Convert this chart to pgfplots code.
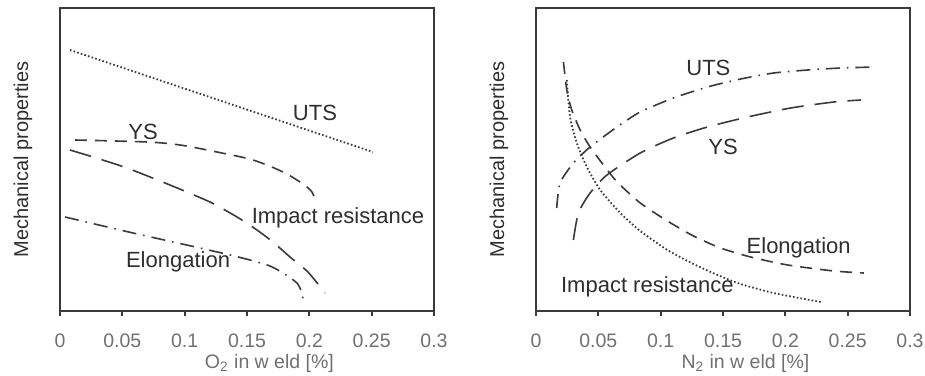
\documentclass[border=0pt]{standalone}
\usepackage{fontspec}
\setmainfont{Liberation Sans}
\usepackage{pgfplots}
\pgfplotsset{compat=1.18}
\definecolor{ln}{HTML}{3A3A3A}
\definecolor{tx}{HTML}{2E2E2E}
\definecolor{tk}{HTML}{707070}
\tikzset{
  lab/.style={font=\fontsize{11}{13}\selectfont, text=tx},
  dotl/.style={ln, line width=0.9pt, dash pattern=on 0.8pt off 1.1pt},
  dashl/.style={ln, line width=0.8pt, dash pattern=on 6pt off 4pt},
  ldashl/.style={ln, line width=0.8pt, dash pattern=on 11pt off 5.5pt},
  ddotl/.style={ln, line width=0.8pt, dash pattern=on 7pt off 3.5pt on 0.8pt off 3.5pt},
}
\pgfplotsset{
  panel/.style={
    scale only axis, width=187pt, height=151.5pt,
    xmin=0, xmax=0.3, ymin=0, ymax=303,
    ytick=\empty,
    xtick={0,0.05,0.1,0.15,0.2,0.25,0.3},
    xticklabels={0,0.05,0.1,0.15,0.2,0.25,0.3},
    xtick pos=left, tick align=outside, major tick length=2.5pt,
    axis line style={line width=1pt, draw=ln},
    every tick/.style={line width=0.9pt, draw=ln},
    xticklabel style={font=\fontsize{9.75}{11}\selectfont, text=tk, yshift=-5.5pt},
    xlabel style={font=\fontsize{9.75}{11}\selectfont, text=tk, at={(axis description cs:0.56,-0.172)}, anchor=center},
    ylabel style={font=\fontsize{10}{12}\selectfont, text=tx, at={(axis description cs:-0.099,0.5)}, anchor=center},
    ylabel={Mechanical properties},
    clip=false,
  },
}
\begin{document}
\begin{tikzpicture}
\useasboundingbox (0,0) rectangle (462.5pt,187.5pt);
% ---------- left panel ----------
\begin{axis}[panel, at={(30pt,32pt)}, anchor=south west,
  xlabel={O\textsubscript{2} in w eld [\%]}]
\addplot[dotl] coordinates {(0.008,261) (0.251,159)};
\addplot[dashl, smooth, tension=0.5] coordinates {
 (0.0120,171) (0.0698,169) (0.0963,166) (0.1259,159) (0.1548,151)
 (0.1789,139) (0.1949,127) (0.2021,119) (0.2053,109)};
\addplot[ldashl, smooth, tension=0.4] coordinates {
 (0.0080,161) (0.0265,154) (0.0537,143) (0.0882,126) (0.1203,109)
 (0.1420,94) (0.1580,81) (0.1708,69) (0.1845,54) (0.1989,39) (0.2126,18)};
\addplot[ddotl, smooth, tension=0.4] coordinates {
 (0.0040,94) (0.0586,78) (0.1123,63) (0.1364,56) (0.1524,51) (0.1684,45)
 (0.1789,38) (0.1901,28) (0.1941,18) (0.1949,11)};
\node[lab] at (axis cs:0.2045,198) {UTS};
\node[lab] at (axis cs:0.0666,179) {YS};
\node[lab] at (axis cs:0.223,93) {Impact resistance};
\node[lab] at (axis cs:0.0947,49) {Elongation};
\end{axis}
% ---------- right panel ----------
\begin{axis}[panel, at={(268pt,32pt)}, anchor=south west,
  xlabel={N\textsubscript{2} in w eld [\%]}]
\addplot[ddotl, smooth, tension=0.4] coordinates {
 (0.0166,103) (0.0193,128) (0.0300,148) (0.0434,164) (0.0649,184)
 (0.0836,199) (0.1102,213) (0.1375,224) (0.1641,232) (0.1906,238)
 (0.2180,241) (0.2445,243) (0.2727,244)};
\addplot[ldashl, smooth, tension=0.4] coordinates {
 (0.0300,71) (0.0340,98) (0.0434,118) (0.0569,136) (0.0836,158)
 (0.1102,173) (0.1375,184) (0.1697,194) (0.2043,203) (0.2389,209) (0.2606,211)};
\addplot[dashl, smooth, tension=0.4] coordinates {
 (0.0220,249) (0.0247,221) (0.0287,201) (0.0354,181) (0.0434,164)
 (0.0541,146) (0.0651,129) (0.0836,108) (0.1054,90) (0.1263,75)
 (0.1480,63) (0.1721,54) (0.2019,46) (0.2389,40) (0.2630,38)};
\addplot[dotl, smooth, tension=0.4] coordinates {
 (0.0247,231) (0.0273,194) (0.0327,168) (0.0408,144) (0.0515,121)
 (0.0676,98) (0.0836,80) (0.1054,61) (0.1263,47) (0.1456,36)
 (0.1641,27) (0.1906,18) (0.2284,9)};
\node[lab] at (axis cs:0.1383,243) {UTS};
\node[lab] at (axis cs:0.150,164) {YS};
\node[lab] at (axis cs:0.2107,63) {Elongation};
\node[lab] at (axis cs:0.0893,24) {Impact resistance};
\end{axis}
\end{tikzpicture}
\end{document}
